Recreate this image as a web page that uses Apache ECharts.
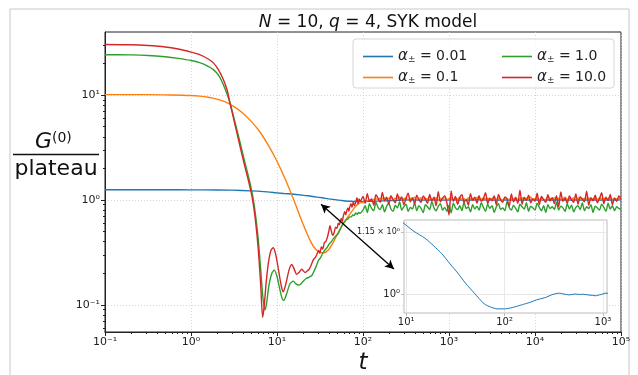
<!DOCTYPE html>
<html>
<head>
<meta charset="utf-8">
<script src="https://cdn.jsdelivr.net/npm/echarts@6/dist/echarts.min.js"></script>
<style>
  html, body { margin: 0; padding: 0; background: #fff; }
  #chart { width: 638px; height: 375px; }
</style>
</head>
<body>
<div id="chart"></div>
<script>
// t grid of the noisy tail (100 .. 1e5)
const tMant = [1.000,1.059,1.122,1.189,1.259,1.334,1.413,1.496,1.585,1.679,1.778,1.884,1.995,2.113,2.239,2.371,2.512,2.661,2.818,2.985,
  3.162,3.350,3.548,3.758,3.981,4.217,4.467,4.732,5.012,5.309,5.623,5.957,6.310,6.683,7.079,7.499,7.943,8.414,8.913,9.441]
const tDecades = [100, 1000, 10000]

const xTicks = [0.1, 1, 10, 100, 1000, 10000, 100000]
const yTicks = [0.1, 1, 10]
const insetXTicks = [10, 100, 1000]
const insetYTicks = [1, 1.15]

// alpha = 0.01
const blueData = [[0.1,1.25],[0.5,1.25],[1,1.249],[2,1.245],[3,1.24],[5,1.22],[7,1.2],[10,1.168],[12,1.152],[15.6,1.134],[19,1.115],
  [22.9,1.096],[28,1.07],[33.6,1.048],[40,1.025],[49.3,1.002],[55,0.99],[62.1,0.978],[72,0.971],[84.5,0.967],[100,0.967],[115,0.969],
  [135,0.973],[156,0.977],[185,0.982],[212,0.987],[240,0.99],[267,0.993],[300,0.998],[335,1.001],[363,1.002],[400,1.0],[457,0.998],
  [520,1.0],[580,0.999],[621,0.9995],[700,0.998],[780,0.997],[845,0.996],[920,0.998],[1000,1.0],[1050,1.002],[1500,0.998],
  [2200,1.003],[3500,0.997],[5000,1.002],[8000,0.999],[12000,1.001],[20000,0.998],[35000,1.002],[60000,0.999],[100000,1.001]]

// alpha = 0.1
const orangeSmooth = [[0.1,10.1],[0.3,10.1],[0.6,10.02],[1.0,9.9],[1.26,9.77],[1.585,9.55],[2.0,9.16],[2.51,8.61],[3.16,7.76],
  [3.98,6.76],[5.01,5.62],[6.31,4.47],[7.94,3.31],[10,2.34],[12.6,1.55],[15.85,0.977],[19.95,0.596],[25.1,0.389],[28.2,0.339],
  [31.6,0.316],[35.5,0.314],[39.8,0.335],[44.7,0.389],[50.1,0.468],[56.2,0.556],[63.1,0.646],[70.8,0.741],[79.4,0.841],[89.1,0.923]]
const orangeNoise = [0.95,0.97,0.98,1.00,0.99,1.01,1.03,1.00,1.04,1.02,
  1.05,1.01,1.03,1.06,1.00,1.04,1.02,1.07,1.01,1.03,
  1.05,0.99,1.04,1.02,1.06,1.00,1.03,1.05,1.01,1.04,
  1.02,1.07,1.00,1.03,1.05,0.99,1.04,1.02,1.06,1.01,
  1.03,1.05,1.00,1.04,1.02,1.07,1.01,1.03,0.99,1.05,
  1.02,1.04,1.00,1.06,1.03,1.01,1.05,1.02,1.04,1.00,
  1.03,1.06,1.01,1.04,1.02,0.99,1.05,1.03,1.01,1.04,
  1.02,1.06,1.00,1.03,1.05,1.01,1.04,1.02,1.07,1.00,
  1.03,1.05,1.01,1.04,0.99,1.02,1.06,1.03,1.01,1.05,
  1.02,1.04,1.00,1.03,1.06,1.01,1.04,1.02,1.05,1.00,
  1.03,1.06,1.01,1.04,1.02,1.05,0.99,1.03,1.04,1.01,
  1.05,1.02,1.04,1.00,1.03,1.06,1.01,1.04,1.02,1.03,
  1.02]

// alpha = 1.0
const greenSmooth = [[0.1,24.3],[0.2,24.2],[0.316,23.9],[0.501,23.2],[0.708,22.4],[1.0,21.4],[1.259,20.4],[1.585,18.8],[1.82,17.5],
  [2.089,15.5],[2.377,12.6],[2.63,10.2],[2.841,8.41],[3.162,6.03],[3.715,3.55],[4.169,2.40],[4.634,1.70],[5.012,1.29],[5.297,1.02],
  [5.623,0.724],[6.026,0.437],[6.457,0.219],[6.839,0.12],[7.244,0.089],[7.586,0.105],[8.035,0.151],[8.71,0.2],[9.311,0.214],
  [10,0.186],[10.84,0.138],[11.48,0.115],[12.02,0.11],[12.88,0.126],[14.13,0.158],[15.49,0.168],[16.6,0.158],[18.16,0.154],
  [19.8,0.165],[21.8,0.178],[23.5,0.183],[25.4,0.19],[27,0.21],[28.7,0.235],[30.4,0.266],[32,0.28],[34,0.31],[36.1,0.333],
  [38,0.35],[40.5,0.38],[43,0.40],[45.5,0.43],[48,0.45],[51.6,0.48],[54,0.52],[57,0.57],[59,0.6],[61.2,0.62],[64,0.65],[67,0.66],
  [70,0.69],[73.2,0.69],[76,0.72],[79,0.71],[82,0.75],[86,0.73],[89,0.76],[92.5,0.746]]
const greenNoise = [0.80,0.88,0.76,0.92,0.83,0.79,0.95,0.85,0.81,0.90,
  0.77,0.87,0.93,0.82,0.78,0.89,0.84,0.96,0.80,0.86,
  0.91,0.78,0.85,0.82,0.94,0.79,0.88,0.83,0.76,0.90,
  0.86,0.81,0.97,0.84,0.79,0.87,0.92,0.80,0.85,0.78,
  0.89,0.75,0.93,0.84,0.81,0.88,0.79,0.95,0.83,0.86,
  0.77,0.90,0.82,0.87,0.80,0.94,0.85,0.78,0.91,0.83,
  0.88,0.76,0.86,0.92,0.81,0.84,0.79,0.96,0.85,0.80,
  0.89,0.83,0.77,0.91,0.86,0.82,0.94,0.78,0.87,0.84,
  0.80,0.93,0.85,0.79,0.88,0.76,0.90,0.83,0.86,0.81,
  0.95,0.80,0.87,0.84,0.78,0.92,0.82,0.89,0.77,0.85,
  0.88,0.81,0.94,0.79,0.86,0.83,0.90,0.76,0.87,0.84,
  0.80,0.91,0.85,0.78,0.93,0.82,0.88,0.79,0.86,0.83,
  0.81]

// alpha = 10.0
const redSmooth = [[0.1,30.4],[0.2,30.2],[0.316,29.7],[0.501,28.8],[0.708,27.5],[1.0,25.7],[1.259,24.3],[1.585,22.1],[1.82,20.3],
  [2.089,17.4],[2.377,14.1],[2.63,11.2],[2.841,8.41],[3.162,5.75],[3.715,3.24],[4.169,2.19],[4.634,1.55],[5.012,1.175],[5.297,0.912],
  [5.623,0.631],[6.026,0.355],[6.457,0.158],[6.808,0.076],[7.079,0.0955],[7.499,0.166],[7.943,0.251],[8.511,0.331],[9.057,0.35],
  [9.661,0.302],[10.47,0.209],[11.22,0.151],[11.83,0.133],[12.59,0.155],[13.8,0.214],[14.83,0.242],[15.85,0.219],[16.94,0.195],
  [18.2,0.205],[19.4,0.219],[20.3,0.21],[21.2,0.203],[22.4,0.21],[23.5,0.217],[25,0.24],[26.5,0.27],[27.7,0.28],[29,0.3],[30.5,0.33],
  [31.5,0.31],[32.8,0.357],[34,0.34],[35.5,0.39],[36.9,0.40],[38.5,0.44],[40,0.5],[41.3,0.568],[42.5,0.52],[43.8,0.47],[44.9,0.46],
  [46.5,0.5],[48,0.55],[49.9,0.535],[51.5,0.6],[53,0.58],[54.5,0.63],[56,0.667],[57.5,0.62],[59,0.7],[61.2,0.773],[63,0.72],[65,0.8],
  [67,0.84],[68.5,0.78],[70.3,0.863],[72.5,0.92],[74.5,0.85],[77,0.95],[79.5,0.88],[82.5,0.96],[85,1.05],[87.5,0.92],[90,1.02],[93,0.97]]
const redNoise = [1.08,0.93,1.15,0.97,1.02,0.89,1.12,1.04,0.95,1.18,
  0.98,1.06,0.91,1.10,1.01,0.94,1.14,0.99,1.07,0.90,
  1.03,1.16,0.96,1.05,0.92,1.11,1.00,0.95,1.09,1.02,
  0.93,1.13,0.98,1.06,0.88,1.20,0.96,1.04,1.10,0.94,
  0.72,1.22,0.97,1.08,0.91,1.05,1.12,0.95,1.01,0.89,
  1.15,0.99,1.06,0.93,1.10,0.97,1.03,1.17,0.92,1.04,
  0.98,1.09,0.90,1.13,1.00,0.95,1.07,1.02,0.87,1.14,
  0.96,1.05,0.93,1.24,0.91,1.06,0.99,1.11,0.94,1.03,
  0.97,1.16,0.90,1.08,1.01,0.95,1.12,0.98,1.05,0.92,
  1.10,0.86,1.19,0.97,1.04,0.93,1.09,1.00,0.95,1.14,
  0.91,1.07,1.02,0.96,1.21,0.89,1.05,0.98,1.11,0.94,
  1.03,1.17,0.92,1.06,0.99,1.13,0.90,1.04,0.97,1.09,
  1.02]

const alphas = ['0.01', '0.1', '1.0', '10.0']
const colors = ['#1f77b4', '#ff7f0e', '#2ca02c', '#d62728']

const tNoise = []
tDecades.forEach(d => tMant.forEach(m => tNoise.push(+(d * m).toPrecision(4))))
tNoise.push(100000)

function withNoise(smooth, noise) {
  return smooth.concat(tNoise.map((t, i) => [t, noise[i]]))
}

// minor ticks 2..9 per decade
function minors(lo, hi) {
  let out = []
  for (let d = 1e-3; d <= 1e5; d *= 10) {
    for (let k = 2; k <= 9; k++) {
      let v = +(k * d).toPrecision(3)
      if (v > lo && v < hi) out.push(v)
    }
  }
  return out
}

const supMap = { '-': '⁻', '0': '⁰', '1': '¹', '2': '²', '3': '³', '4': '⁴', '5': '⁵' }
function pow10(v) {
  let e = Math.round(Math.log10(v))
  if (Math.abs(Math.log10(v) - e) > 1e-6) return ''
  return '10' + String(e).split('').map(c => supMap[c]).join('')
}

const xMin = 0.1, xMax = 1e5, yMin = 0.055, yMax = 40

let chart = echarts.init(document.getElementById('chart'))

const lineBase = { type: 'line', showSymbol: false, symbol: 'none', animation: false, smooth: 0.25 }
const series = [
  blueData,
  withNoise(orangeSmooth, orangeNoise),
  withNoise(greenSmooth, greenNoise),
  withNoise(redSmooth, redNoise)
].map((d, i) => Object.assign({}, lineBase, {
  name: 'a' + alphas[i],
  data: d,
  color: colors[i],
  xAxisIndex: 0,
  yAxisIndex: 0,
  z: 2 + i * 0.1,
  lineStyle: { width: 1.4, color: colors[i] }
}))

// double arrow pointing at the inset
series[3].markLine = {
  silent: true,
  symbol: ['arrow', 'arrow'],
  symbolSize: [7, 9],
  label: { show: false },
  lineStyle: { color: '#000', width: 1.3, type: 'solid' },
  data: [[{ coord: [32.5, 0.91] }, { coord: [229, 0.219] }]]
}

// inset: alpha = 0.01 zoomed
series.push(Object.assign({}, lineBase, {
  name: 'inset',
  data: blueData,
  xAxisIndex: 2,
  yAxisIndex: 2,
  z: 12,
  lineStyle: { width: 1, color: colors[0] }
}))

const axisTxt = { color: '#222', fontFamily: 'DejaVu Sans', fontSize: 11 }
const legendRich = {
  i: { fontFamily: 'DejaVu Sans', fontStyle: 'italic', fontSize: 15, color: '#222' },
  s: { fontFamily: 'DejaVu Sans', fontSize: 9, color: '#222', verticalAlign: 'bottom', padding: [5, 0, 0, 0] },
  n: { fontFamily: 'DejaVu Sans', fontSize: 14, color: '#222' }
}
function legendFmt(name) {
  return '{i|α}{s|±}{n| = ' + name.slice(1) + '}'
}
const legendBase = {
  orient: 'vertical', icon: 'rect', itemWidth: 30, itemHeight: 1.6, itemGap: 6,
  textStyle: { rich: legendRich, lineHeight: 15 }, formatter: legendFmt,
  selectedMode: false, z: 20
}

let option = {
  animation: false,
  title: {
    text: '{i|N} = 10, {i|q} = 4, SYK model',
    left: 363, top: 9, textAlign: 'center',
    textStyle: {
      fontFamily: 'DejaVu Sans', fontSize: 17, fontWeight: 'normal', color: '#111',
      rich: { i: { fontFamily: 'DejaVu Sans', fontStyle: 'italic', fontSize: 17, color: '#111' } }
    }
  },
  legend: [
    Object.assign({}, legendBase, { left: 358, top: 44, data: ['a0.01', 'a0.1'] }),
    Object.assign({}, legendBase, { left: 497, top: 44, data: ['a1.0', 'a10.0'] })
  ],
  grid: [
    { left: 105, top: 32, right: 17, bottom: 43, show: true, borderColor: '#222', borderWidth: 1, backgroundColor: 'transparent' },
    { left: 404, top: 220, width: 203, height: 93, show: true, borderColor: '#bbb', borderWidth: 1, backgroundColor: '#fff', z: 8 }
  ],
  xAxis: [
    {
      type: 'log', gridIndex: 0, min: xMin, max: xMax, position: 'bottom',
      axisLine: { show: true, lineStyle: { color: '#222' } },
      axisTick: { show: true, length: 4, customValues: xTicks, lineStyle: { color: '#222' } },
      axisLabel: { customValues: xTicks, formatter: pow10, margin: 5, ...axisTxt },
      splitLine: { show: true, lineStyle: { color: '#ccc', type: [1, 2], width: 0.8 } }
    },
    {
      type: 'log', gridIndex: 0, min: xMin, max: xMax, position: 'bottom',
      axisLine: { show: false },
      axisTick: { show: true, length: 2, customValues: minors(xMin, xMax), lineStyle: { color: '#222' } },
      axisLabel: { show: false }, splitLine: { show: false }
    },
    {
      type: 'log', gridIndex: 1, min: 9.5, max: 1100, z: 9, position: 'bottom',
      axisLine: { show: false },
      axisTick: { show: true, length: 3, customValues: insetXTicks, lineStyle: { color: '#bbb' } },
      axisLabel: { customValues: insetXTicks, formatter: pow10, margin: 4, color: '#222', fontFamily: 'DejaVu Sans', fontSize: 10 },
      splitLine: { show: true, lineStyle: { color: '#e2e2e2', width: 0.8 } }
    }
  ],
  yAxis: [
    {
      type: 'log', gridIndex: 0, min: yMin, max: yMax, position: 'left',
      axisLine: { show: true, lineStyle: { color: '#222' } },
      axisTick: { show: true, length: 4, customValues: yTicks, lineStyle: { color: '#222' } },
      axisLabel: { customValues: yTicks, formatter: pow10, margin: 5, ...axisTxt },
      splitLine: { show: true, lineStyle: { color: '#ccc', type: [1, 2], width: 0.8 } }
    },
    {
      type: 'log', gridIndex: 0, min: yMin, max: yMax, position: 'left',
      axisLine: { show: false },
      axisTick: { show: true, length: 2, customValues: minors(yMin, yMax), lineStyle: { color: '#222' } },
      axisLabel: { show: false }, splitLine: { show: false }
    },
    {
      type: 'log', gridIndex: 1, min: 0.958, max: 1.182, z: 9, position: 'left',
      axisLine: { show: false },
      axisTick: { show: true, length: 3, customValues: insetYTicks, lineStyle: { color: '#bbb' } },
      axisLabel: {
        customValues: insetYTicks, margin: 4, color: '#222', fontFamily: 'DejaVu Sans',
        formatter: v => Math.abs(v - 1) < 1e-6 ? '{b|10⁰}' : '{a|1.15 × 10⁰}',
        rich: {
          a: { fontFamily: 'DejaVu Sans', fontSize: 8, color: '#222' },
          b: { fontFamily: 'DejaVu Sans', fontSize: 10, color: '#222' }
        }
      },
      splitLine: { show: true, lineStyle: { color: '#e2e2e2', width: 0.8 } }
    }
  ],
  graphic: [
    { type: 'rect', shape: { x: 10, y: 9, width: 619, height: 380 }, style: { fill: 'none', stroke: '#c8c8c8', lineWidth: 1 }, z: -10 },
    // legend frame
    { type: 'rect', shape: { x: 353, y: 39, width: 261, height: 49, r: 3 }, style: { fill: 'rgba(255,255,255,0.8)', stroke: '#d6d6d6', lineWidth: 1 }, z: 15 },
    // y label: G^(0) / plateau
    { type: 'text', x: 35, y: 142, style: { text: 'G', font: 'italic 22px "DejaVu Sans"', fill: '#111', verticalAlign: 'middle' }, z: 20 },
    { type: 'text', x: 52, y: 138, style: { text: '(0)', font: '14px "DejaVu Sans"', fill: '#111', verticalAlign: 'middle' }, z: 20 },
    { type: 'line', shape: { x1: 13, y1: 154.5, x2: 99, y2: 154.5 }, style: { stroke: '#111', lineWidth: 1.6 }, z: 20 },
    { type: 'text', x: 56, y: 169, style: { text: 'plateau', font: '22px "DejaVu Sans"', fill: '#111', align: 'center', verticalAlign: 'middle' }, z: 20 },
    // x label
    { type: 'text', x: 363, y: 363, style: { text: 't', font: 'italic 23px "DejaVu Sans"', fill: '#111', align: 'center', verticalAlign: 'middle' }, z: 20 }
  ],
  series: series
}

chart.setOption(option)
</script>
</body>
</html>
